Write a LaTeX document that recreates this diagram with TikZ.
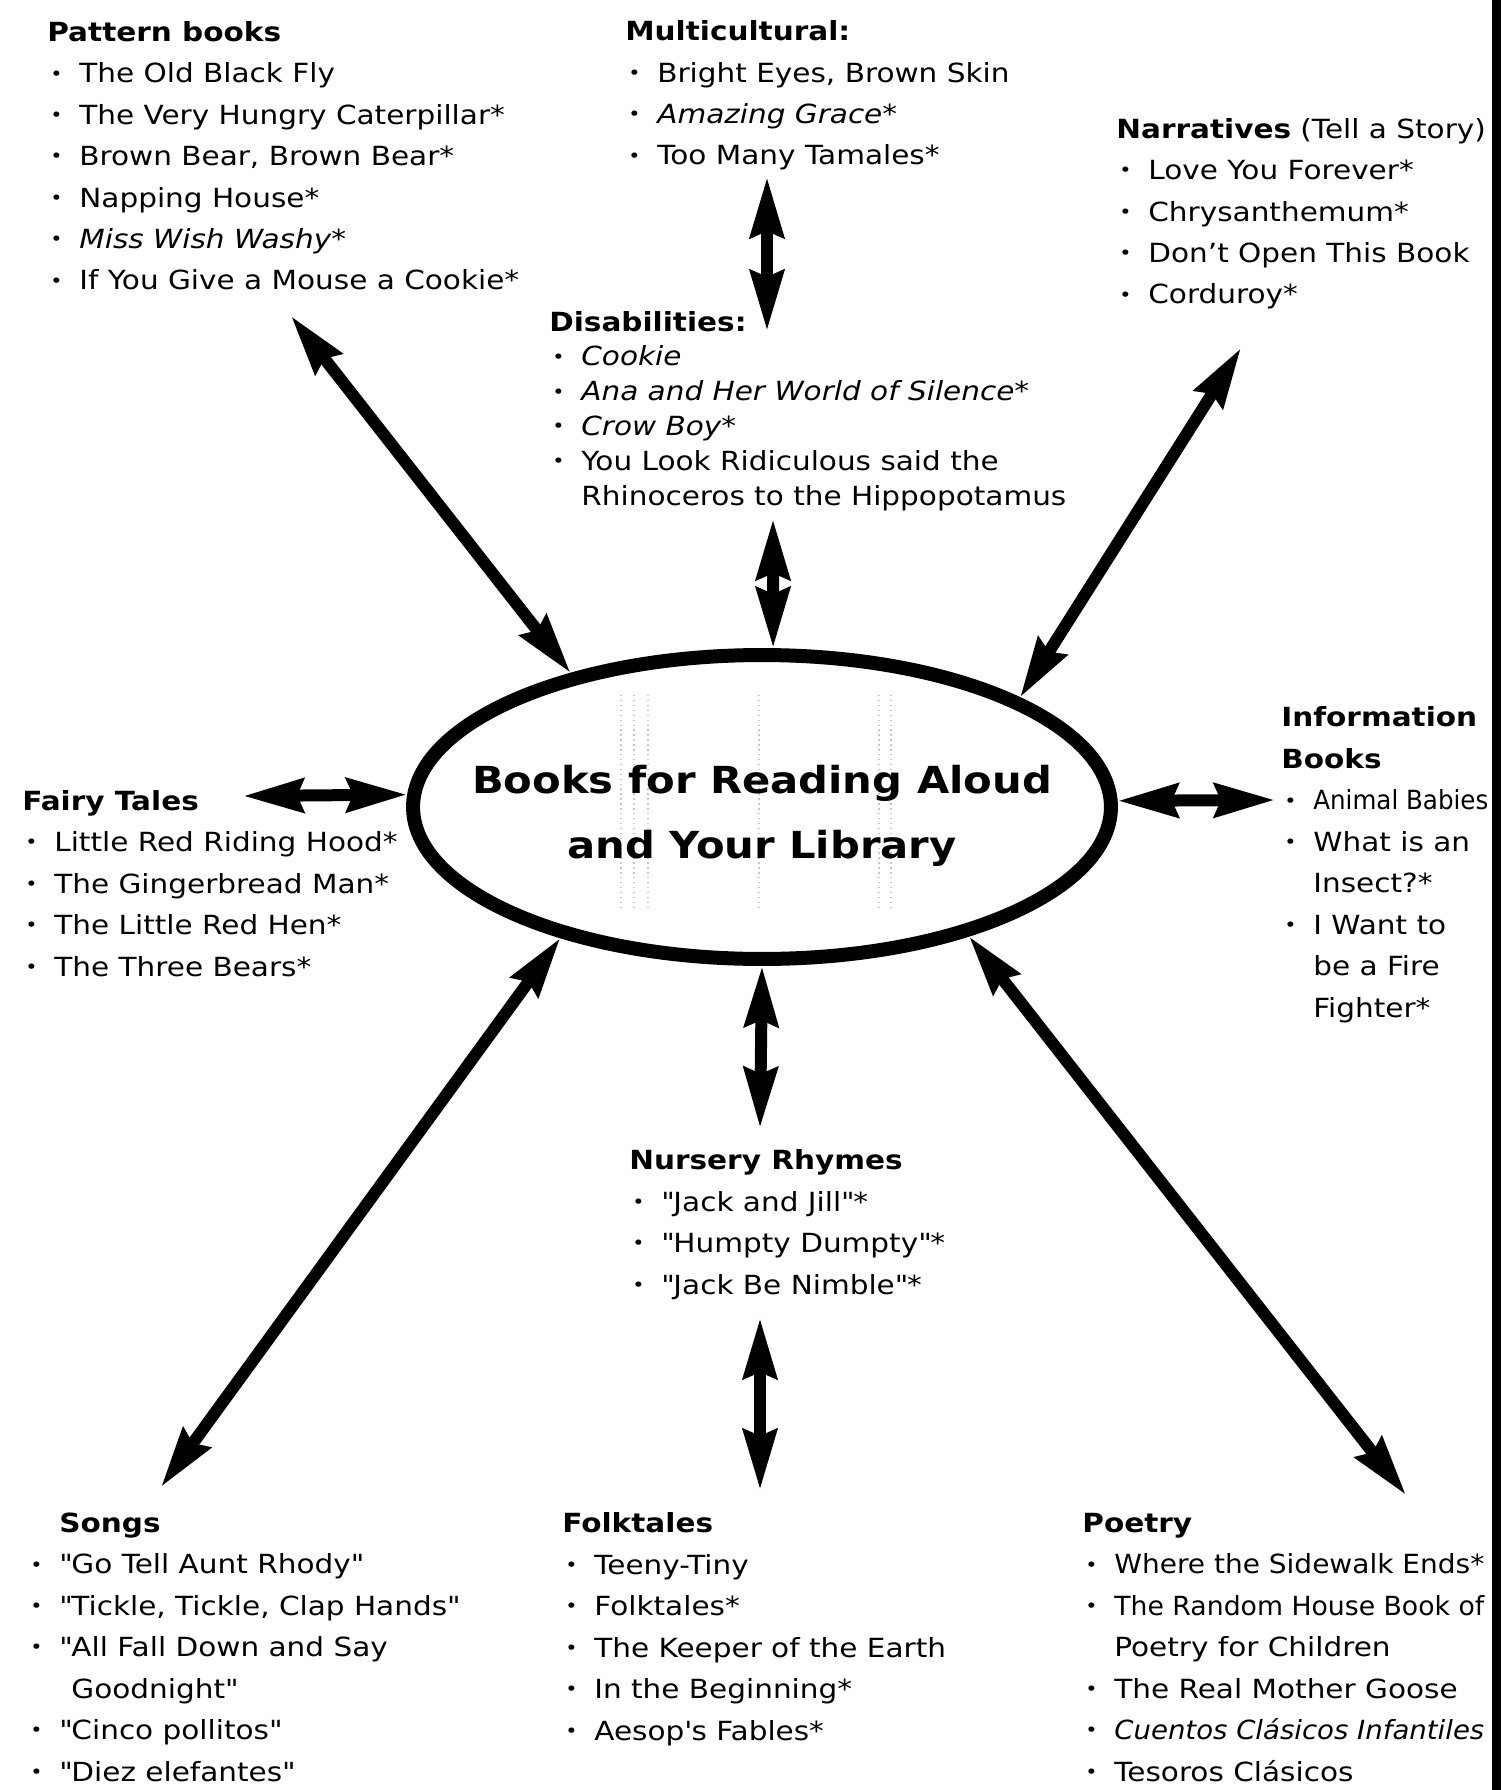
\documentclass[tikz,border=0pt]{standalone}
\usepackage{graphicx}
\usepackage{fontspec}
\setmainfont{DejaVu Sans}[FakeStretch=1.12]
\usetikzlibrary{arrows.meta, shapes.geometric}

\newcommand{\itm}{\makebox[0.64cm][l]{\hspace{0.06cm}\raisebox{0.1em}{\scalebox{0.7}{\textbullet}}}}
\newcommand{\cont}{\hspace*{0.64cm}}
\newcommand{\q}{\textquotedbl}
\newcommand{\edge}[2]{\resizebox{#1}{\height}{#2}}

\begin{document}
\begin{tikzpicture}[x=0.02cm, y=-0.02cm,
    every node/.style={font=\fontsize{15}{23.6}\selectfont, inner sep=0pt},
    cat/.style={align=left, anchor=base west},
    tight/.style={font=\fontsize{15}{19.8}\selectfont},
    link/.style={line width=0.24cm, {Stealth[length=1.2cm, width=0.66cm, inset=0.12cm]}-{Stealth[length=1.2cm, width=0.66cm, inset=0.12cm]}},
    bookdot/.style={gray!45, dotted, line width=0.8pt}]
  \useasboundingbox (0,0) rectangle (1501,1790);
  % boekje achter de titel
  \foreach \x in {621,634,648,759,879,891}
  \draw[bookdot] (\x,695) -- (\x,910);
  % midden
  \node[ellipse, draw, line width=0.28cm, minimum width=13.96cm, minimum height=6.08cm] (books) at (762,807) {};
  \node[align=center, font=\fontsize{21.2}{36.8}\selectfont\bfseries] (title) at (762,816)
    {Books for Reading Aloud\\and Your Library};
  % categorieen (anker op de basislijn van de laatste regel)
  \node[cat] (pattern) at (47,290) {\textbf{Pattern books}\\
    \itm The Old Black Fly\\
    \itm The Very Hungry Caterpillar*\\
    \itm Brown Bear, Brown Bear*\\
    \itm Napping House*\\
    \itm \textit{Miss Wish Washy*}\\
    \itm If You Give a Mouse a Cookie*};
  \node[cat] (multi) at (625,165) {\textbf{Multicultural:}\\
    \itm Bright Eyes, Brown Skin\\
    \itm \textit{Amazing Grace*}\\
    \itm Too Many Tamales*};
  \node[cat] (narr) at (1116,304) {\textbf{Narratives} (Tell a Story)\\
    \itm Love You Forever*\\
    \itm Chrysanthemum*\\
    \itm Don’t Open This Book\\
    \itm Corduroy*};
  \node[cat, tight] (disab) at (549,505) {\textbf{Disabilities:}\\
    \itm \textit{Cookie}\\
    \itm \textit{Ana and Her World of Silence*}\\
    \itm \textit{Crow Boy*}\\
    \itm You Look Ridiculous said the\\
    \cont Rhinoceros to the Hippopotamus};
  \node[cat] (fairy) at (22,976) {\textbf{Fairy Tales}\\
    \itm Little Red Riding Hood*\\
    \itm The Gingerbread Man*\\
    \itm The Little Red Hen*\\
    \itm The Three Bears*};
  \node[cat] (info) at (1281,1017) {\textbf{Information}\\
    \textbf{Books}\\
    \itm \edge{3.5cm}{Animal Babies}\\
    \itm What is an\\
    \cont Insect?*\\
    \itm I Want to\\
    \cont be a Fire\\
    \cont Fighter*};
  \node[cat] (nursery) at (629,1294) {\textbf{Nursery Rhymes}\\
    \itm \q Jack and Jill\q*\\
    \itm \q Humpty Dumpty\q*\\
    \itm \q Jack Be Nimble\q*};
  \node[cat] (songs) at (27,1781) {\cont\textbf{Songs}\\
    \itm \q Go Tell Aunt Rhody\q\\
    \itm \q Tickle, Tickle, Clap Hands\q\\
    \itm \q All Fall Down and Say\\
    \cont\phantom{\q}Goodnight\q\\
    \itm \q Cinco pollitos\q\\
    \itm \q Diez elefantes\q};
  \node[cat] (folk) at (562,1740) {\textbf{Folktales}\\
    \itm Teeny-Tiny\\
    \itm Folktales*\\
    \itm The Keeper of the Earth\\
    \itm In the Beginning*\\
    \itm Aesop\textquotesingle s Fables*};
  \node[cat] (poetry) at (1082,1781) {\textbf{Poetry}\\
    \itm \edge{7.4cm}{Where the Sidewalk Ends*}\\
    \itm \edge{7.4cm}{The Random House Book of}\\
    \cont Poetry for Children\\
    \itm The Real Mother Goose\\
    \itm \edge{7.4cm}{\textit{Cuentos Clásicos Infantiles}}\\
    \itm Tesoros Clásicos};
  % pijlen
  \coordinate (pattern-tip) at (291,316);
  \coordinate (multi-tip) at (767,177);
  \coordinate (disab-top) at (767,331);
  \coordinate (disab-tip) at (773,519);
  \coordinate (narr-tip) at (1241,348);
  \coordinate (fairy-tip) at (243,796);
  \coordinate (info-tip) at (1275,800);
  \coordinate (songs-tip) at (161,1487);
  \coordinate (nursery-top) at (760,1128);
  \coordinate (nursery-tip) at (760,1318);
  \coordinate (folk-tip) at (760,1490);
  \coordinate (poetry-tip) at (1406,1495);
  \draw[link] (pattern-tip) -- (books.145);
  \draw[link] (multi-tip) -- (disab-top);
  \draw[link] (disab-tip) -- (books.86);
  \draw[link] (narr-tip) -- (books.23);
  \draw[link] (fairy-tip) -- (books.178);
  \draw[link] (info-tip) -- (books.1);
  \draw[link] (songs-tip) -- (books.213);
  \draw[link] (nursery-top) -- (books.270);
  \draw[link] (nursery-tip) -- (folk-tip);
  \draw[link] (poetry-tip) -- (books.328);
  % rand van de bladzijde
  \fill (1492,0) rectangle (1501,1790);
\end{tikzpicture}
\end{document}
